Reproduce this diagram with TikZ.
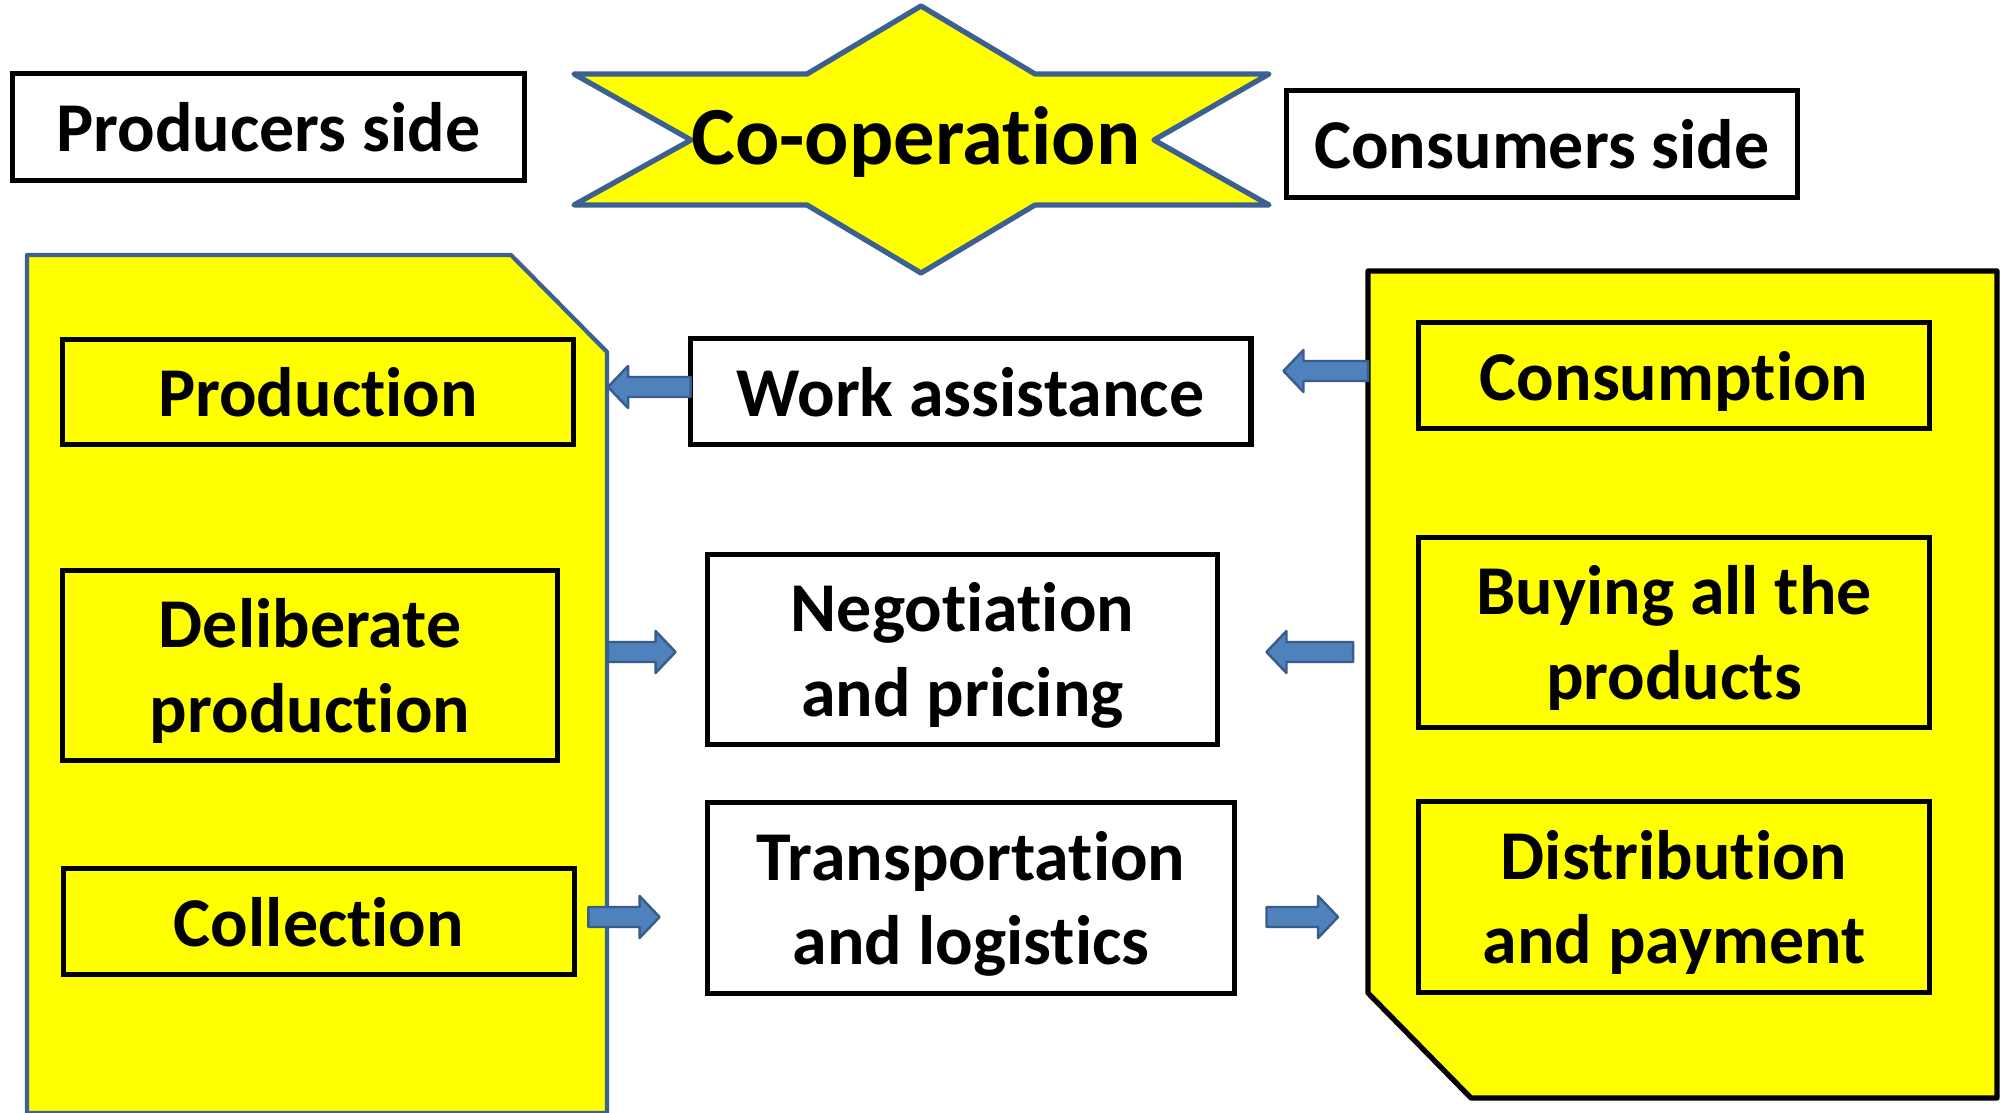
\documentclass[tikz,border=0pt]{standalone}
\usepackage{fontspec}
\setmainfont[Ligatures={NoCommon,NoRare,NoContextual}]{Carlito}
\usetikzlibrary{calc}
\definecolor{panelyellow}{RGB}{255,255,0}
\definecolor{edgeblue}{RGB}{60,96,145}
\definecolor{arrowfill}{RGB}{79,129,189}
\definecolor{arrowedge}{RGB}{56,93,138}
\tikzset{
  box/.style={draw=black, line width=1.6pt, fill=white, align=center, inner sep=0pt,
    text depth=0pt, font=\fontsize{19.9}{24}\selectfont\bfseries},
  ybox/.style={box, fill=panelyellow},
  blockarrow/.style={fill=arrowfill, draw=arrowedge, line width=0.7pt, line join=round}
}
\newcommand{\blockarrow}[2]{%
  \path (#1) coordinate (ba-t) (#2) coordinate (ba-h);
  \path ($(ba-h)!0.2cm!(ba-t)$) coordinate (ba-b);
  \draw[blockarrow] ($(ba-t)+(0,10)$) -- ($(ba-b)+(0,10)$) -- ($(ba-b)+(0,21)$) -- (ba-h)
    -- ($(ba-b)+(0,-21)$) -- ($(ba-b)+(0,-10)$) -- ($(ba-t)+(0,-10)$) -- cycle;}
\begin{document}
\begin{tikzpicture}[x=0.01cm,y=-0.01cm]
	\useasboundingbox (0,0) rectangle (2004,1113);
	\fill[white] (0,0) rectangle (2004,1113);
	\draw[fill=panelyellow,draw=edgeblue,line width=1.2pt,line join=round]
	    (27,1113)--(27,255)--(511,255)--(607,352)--(607,1113)--cycle;
	\draw[fill=panelyellow,draw=black,line width=1.5pt,line join=round]
	    (1368,271)--(1997,271)--(1997,1098)--(1471,1098)--(1368,993)--cycle;
	\draw[fill=panelyellow,draw=edgeblue,line width=1.5pt,line join=round]
	    (574,74)--(807,74)--(921,6)--(1035,74)--(1269,74)--(1154,140)--(1269,205)
	    --(1035,205)--(921,273)--(807,205)--(574,205)--(691,140)--cycle;
	\node[font=\fontsize{23.5}{28}\selectfont\bfseries,text depth=0pt] (coop) at (916,136) {Co-operation};
	\node[box,minimum width=5.12cm,minimum height=1.07cm] (producers) at (268.5,127) {Producers side};
	\node[box,minimum width=5.11cm,minimum height=1.07cm] (consumers) at (1542,144) {Consumers side};
	\node[ybox,minimum width=5.11cm,minimum height=1.05cm] (prod) at (318,392) {Production};
	\node[ybox,minimum width=4.95cm,minimum height=1.90cm] (delib) at (310,665.5) {Deliberate\\production};
	\node[ybox,minimum width=5.11cm,minimum height=1.06cm] (coll) at (319,921.5) {Collection};
	\node[box,minimum width=5.60cm,minimum height=1.06cm] (work) at (970.5,391.5) {Work assistance};
	\node[box,minimum width=5.10cm,minimum height=1.90cm] (nego) at (962.5,649.5) {Negotiation\\and pricing};
	\node[box,minimum width=5.27cm,minimum height=1.91cm] (trans) at (971,898) {Transportation\\and logistics};
	\node[ybox,minimum width=5.11cm,minimum height=1.06cm] (cons) at (1674,375.5) {Consumption};
	\node[ybox,minimum width=5.11cm,minimum height=1.90cm] (buy) at (1674,632.5) {Buying all the\\products};
	\node[ybox,minimum width=5.11cm,minimum height=1.91cm] (dist) at (1674,897) {Distribution\\and payment};
	\coordinate (lpanel) at (607,700);
	\coordinate (rpanel) at (1368,700);
	\blockarrow{$(work.west)+(3,-4.5)$}{$(lpanel |- work.west)+(1,-4.5)$}
	\blockarrow{$(lpanel |- nego.west)+(1,2.5)$}{$(nego.west)+(-29,2.5)$}
	\blockarrow{$(coll.east)+(11,-4.5)$}{$(trans.west |- coll.east)+(-45,-4.5)$}
	\blockarrow{$(rpanel |- cons.west)+(0,-4.5)$}{$(work.east |- cons.west)+(30,-4.5)$}
	\blockarrow{$(rpanel |- nego.east)+(-15,2.5)$}{$(nego.east)+(46,2.5)$}
	\blockarrow{$(trans.east |- dist.west)+(29,20)$}{$(rpanel |- dist.west)+(-30,20)$}
\end{tikzpicture}
\end{document}
